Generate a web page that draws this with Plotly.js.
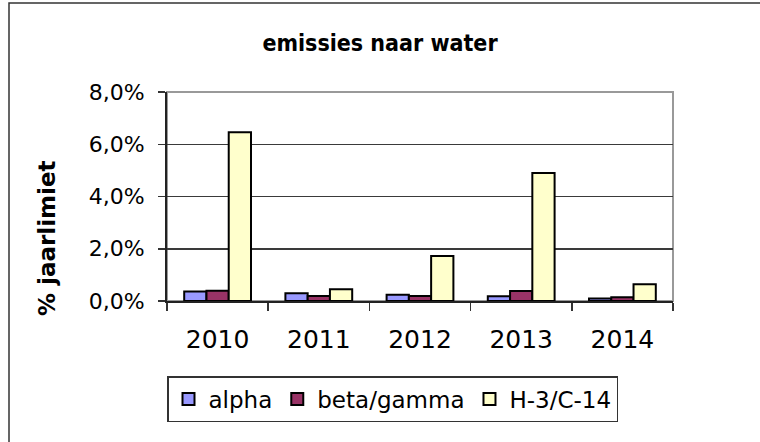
<!DOCTYPE html>
<html>
<head>
<meta charset="utf-8">
<script src="https://cdn.plot.ly/plotly-3.0.1.min.js"></script>
<style>
  html, body { margin: 0; padding: 0; background: #fff; }
  #chart { width: 760px; height: 442px; }
</style>
</head>
<body>
<div id="chart"></div>
<script>
const years = ['2010', '2011', '2012', '2013', '2014'];
const alpha = [0.0036, 0.0030, 0.0024, 0.0018, 0.0010];
const betaGamma = [0.0039, 0.0019, 0.0019, 0.0038, 0.0014];
const h3c14 = [0.0646, 0.0045, 0.0172, 0.0490, 0.0064];
const seriesNames = ['alpha', 'beta/gamma', 'H-3/C-14'];
const yTicks = [0, 0.02, 0.04, 0.06, 0.08];
const yTickText = ['0,0%', '2,0%', '4,0%', '6,0%', '8,0%'];

const FONT = 'DejaVu Sans, sans-serif';
const FONT_C = 'DejaVu Sans Condensed, DejaVu Sans, sans-serif';
const colors = ['#9999FF', '#993366', '#FFFFCC'];
const data = [alpha, betaGamma, h3c14].map((vals, i) => ({
  type: 'bar',
  x: years,
  y: vals,
  name: seriesNames[i],
  marker: { color: colors[i], line: { color: '#000', width: 2 } },
  hoverinfo: 'skip'
}));

const W = 506, H = 209, L = 167, T = 92;
const px = v => (v - L) / W;
const py = v => 1 - (v - T) / H;

const layout = {
  width: 760, height: 442,
  margin: { l: 167, r: 87, t: 92, b: 141, pad: 0 },
  paper_bgcolor: '#fff', plot_bgcolor: '#fff',
  font: { family: FONT, color: '#000', size: 20 },
  title: { text: '<b>emissies naar water</b>', x: 0.5, xanchor: 'center', y: 1 - 43 / 442, yanchor: 'middle', font: { family: FONT_C, size: 23, color: '#000' } },
  barmode: 'group',
  bargap: 0.34,
  bargroupgap: 0,
  showlegend: true,
  legend: {
    orientation: 'h', x: 0, xanchor: 'left', y: py(376), yanchor: 'top',
    bordercolor: '#333', borderwidth: 1.5, bgcolor: '#fff',
    font: { family: FONT, size: 23, color: '#000' },
    itemwidth: 30, traceorder: 'normal', tracegroupgap: 0
  },
  xaxis: {
    type: 'category', showgrid: false, showline: true, linecolor: '#222', linewidth: 2,
    ticks: 'outside', tickson: 'boundaries', ticklen: 8, tickcolor: '#333', tickwidth: 1.5,
    ticklabelstandoff: 15,
    tickfont: { family: FONT, size: 25, color: '#000' }, fixedrange: true
  },
  yaxis: {
    range: [0, 0.08], tickvals: yTicks, ticktext: yTickText,
    showgrid: true, gridcolor: '#3a3a3a', gridwidth: 1.5, zeroline: false,
    showline: true, linecolor: '#222', linewidth: 2,
    ticks: 'outside', ticklen: 7, tickcolor: '#333', tickwidth: 1.5,
    ticklabelstandoff: 9,
    tickfont: { family: FONT, size: 22, color: '#000' },
    fixedrange: true
  },
  annotations: [
    { text: '<b>% jaarlimiet</b>', xref: 'paper', yref: 'paper', x: px(47), y: py(238), xanchor: 'center', yanchor: 'middle', textangle: -90, showarrow: false, font: { family: FONT, size: 23, color: '#000' } }
  ],
  shapes: [
    { type: 'rect', xref: 'paper', yref: 'paper', x0: 0, x1: 1, y0: 0, y1: 1, line: { color: '#999', width: 2 }, layer: 'below' },
    { type: 'rect', xref: 'paper', yref: 'paper', x0: px(9), x1: px(790), y0: py(470), y1: py(3), line: { color: '#333', width: 1.5 }, layer: 'below' }
  ]
};

Plotly.newPlot('chart', data, layout, { displayModeBar: false, staticPlot: true });
</script>
</body>
</html>
